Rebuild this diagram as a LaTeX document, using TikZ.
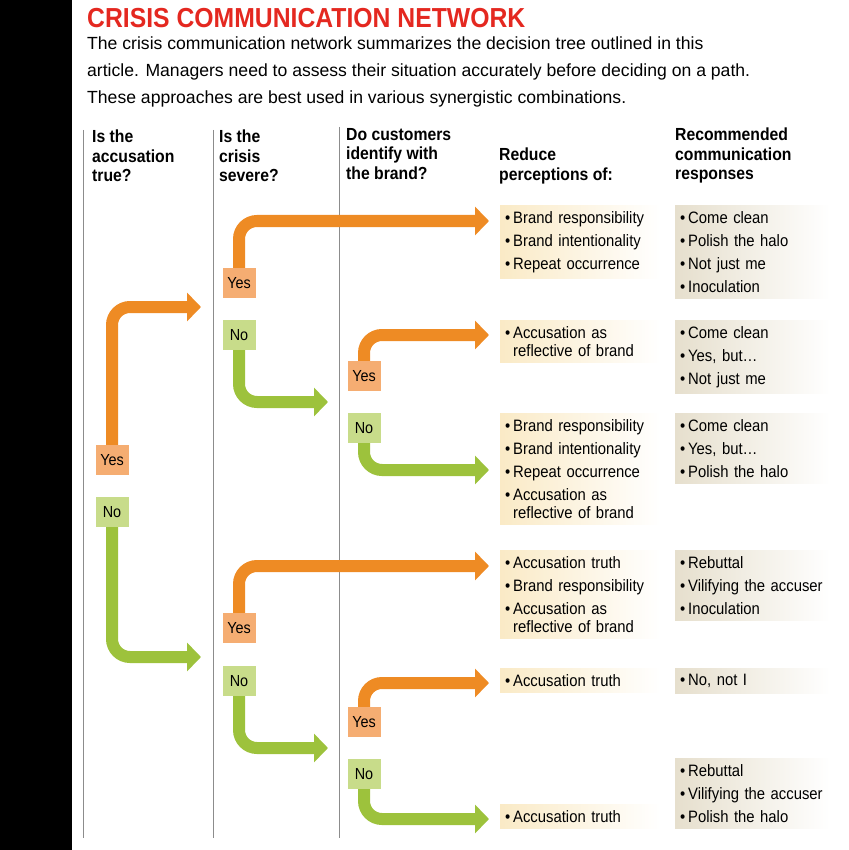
\documentclass[tikz,border=0pt]{standalone}
\usepackage{fontspec}
\setmainfont{Liberation Sans}
\newfontfamily\cond[FakeStretch=0.9]{Liberation Sans}
\usetikzlibrary{arrows.meta,positioning}
\definecolor{crisisred}{HTML}{E42820}
\definecolor{yesfill}{HTML}{F5AD72}
\definecolor{nofill}{HTML}{C8DC8A}
\definecolor{yesline}{HTML}{EE8B24}
\definecolor{noline}{HTML}{9DC23C}
\definecolor{cream}{HTML}{FAEAC6}
\definecolor{stone}{HTML}{E6DFCD}
\definecolor{rule}{HTML}{8C8C8C}
\newcommand{\itm}[1]{\textbullet\,#1}
\newcommand{\wrp}{\\[-5pt]\hspace*{8pt}}
\tikzset{
  yes/.style={fill=yesfill, minimum width=33pt, minimum height=30pt, inner sep=0pt, font=\cond\fontsize{16}{16}\selectfont},
  no/.style={yes, fill=nofill},
  head/.style={anchor=north west, align=left, inner sep=0pt, font=\cond\bfseries\fontsize{17.5}{19.5}\selectfont},
  panel/.style={anchor=north west, align=left, inner xsep=5pt, inner ysep=6pt, font=\cond\fontsize{16.5}{23}\selectfont},
  reduce/.style={panel, left color=cream, right color=white, text width=150pt},
  respond/.style={panel, left color=stone, right color=white, text width=145pt},
  yesarrow/.style={draw=yesline, line width=12pt, rounded corners=18pt, -{Triangle[length=14pt,width=28pt]}},
  noarrow/.style={yesarrow, draw=noline},
}
\begin{document}
\begin{tikzpicture}[x=1pt,y=-1pt]
\useasboundingbox (0,0) rectangle (848,850);
\fill[black] (0,0) rectangle (72,850);
\node (title) at (87,18) [anchor=west, inner sep=0pt, text=crisisred, font=\cond\bfseries\fontsize{27.5}{27.5}\selectfont] {CRISIS COMMUNICATION NETWORK};
\node (intro) at (87,37) [anchor=north west, align=left, inner sep=0pt, font=\fontsize{17.6}{27}\selectfont] {The crisis communication network summarizes the decision tree outlined in this\\article. Managers need to assess their situation accurately before deciding on a path.\\These approaches are best used in various synergistic combinations.};
% column rules
\draw[rule, line width=0.8pt] (83,130) -- (83,838) (213,130) -- (213,838) (339,127) -- (339,838);
% headers
\node (h1) at (92,130) [head] {Is the\\accusation\\true?};
\node (h2) at (219,130) [head] {Is the\\crisis\\severe?};
\node (h3) at (346,128) [head] {Do customers\\identify with\\the brand?};
\node (h4) at (499,148) [head] {Reduce\\perceptions of:};
\node (h5) at (675,128) [head] {Recommended\\communication\\responses};
% decisions
\node (yesA) at (112,460) [yes] {Yes};
\node (noA) at (112,512) [no] {No};
\node (yesB) at (239,283) [yes] {Yes};
\node (noB) at (239,335) [no] {No};
\node (yesC) at (239,628) [yes] {Yes};
\node (noC) at (239,681) [no] {No};
\node (yesD) at (364,376) [yes] {Yes};
\node (noD) at (364,428) [no] {No};
\node (yesE) at (364,722) [yes] {Yes};
\node (noE) at (364,774) [no] {No};
% arrow ends
\coordinate (tA) at (201,307);
\coordinate (tB) at (201,657);
\coordinate (tC) at (489,221);
\coordinate (tD) at (328,402);
\coordinate (tE) at (489,566);
\coordinate (tF) at (328,748);
\coordinate (tG) at (489,335);
\coordinate (tH) at (489,470);
\coordinate (tI) at (489,683);
\coordinate (tJ) at (489,819);
\draw[yesarrow] (yesA.north) |- (tA);
\draw[noarrow] (noA.south) |- (tB);
\draw[yesarrow] (yesB.north) |- (tC);
\draw[noarrow] (noB.south) |- (tD);
\draw[yesarrow] (yesC.north) |- (tE);
\draw[noarrow] (noC.south) |- (tF);
\draw[yesarrow] (yesD.north) |- (tG);
\draw[noarrow] (noD.south) |- (tH);
\draw[yesarrow] (yesE.north) |- (tI);
\draw[noarrow] (noE.south) |- (tJ);
% reduce perceptions of
\node (r1) at (500,205) [reduce] {\itm{Brand responsibility}\\\itm{Brand intentionality}\\\itm{Repeat occurrence}};
\node (r2) at (500,320) [reduce] {\itm{Accusation as}\wrp reflective of brand};
\node (r3) at (500,413) [reduce] {\itm{Brand responsibility}\\\itm{Brand intentionality}\\\itm{Repeat occurrence}\\\itm{Accusation as}\wrp reflective of brand};
\node (r4) at (500,550) [reduce] {\itm{Accusation truth}\\\itm{Brand responsibility}\\\itm{Accusation as}\wrp reflective of brand};
\node (r5) at (500,668) [reduce] {\itm{Accusation truth}};
\node (r6) at (500,804) [reduce] {\itm{Accusation truth}};
% recommended responses
\node (s1) at (675,205) [respond] {\itm{Come clean}\\\itm{Polish the halo}\\\itm{Not just me}\\\itm{Inoculation}};
\node (s2) at (675,320) [respond] {\itm{Come clean}\\\itm{Yes, but\ldots}\\\itm{Not just me}};
\node (s3) at (675,413) [respond] {\itm{Come clean}\\\itm{Yes, but\ldots}\\\itm{Polish the halo}};
\node (s4) at (675,550) [respond] {\itm{Rebuttal}\\\itm{Vilifying the accuser}\\\itm{Inoculation}};
\node (s5) at (675,668) [respond] {\itm{No, not I}};
\node (s6) at (675,758) [respond] {\itm{Rebuttal}\\\itm{Vilifying the accuser}\\\itm{Polish the halo}};
\end{tikzpicture}
\end{document}
